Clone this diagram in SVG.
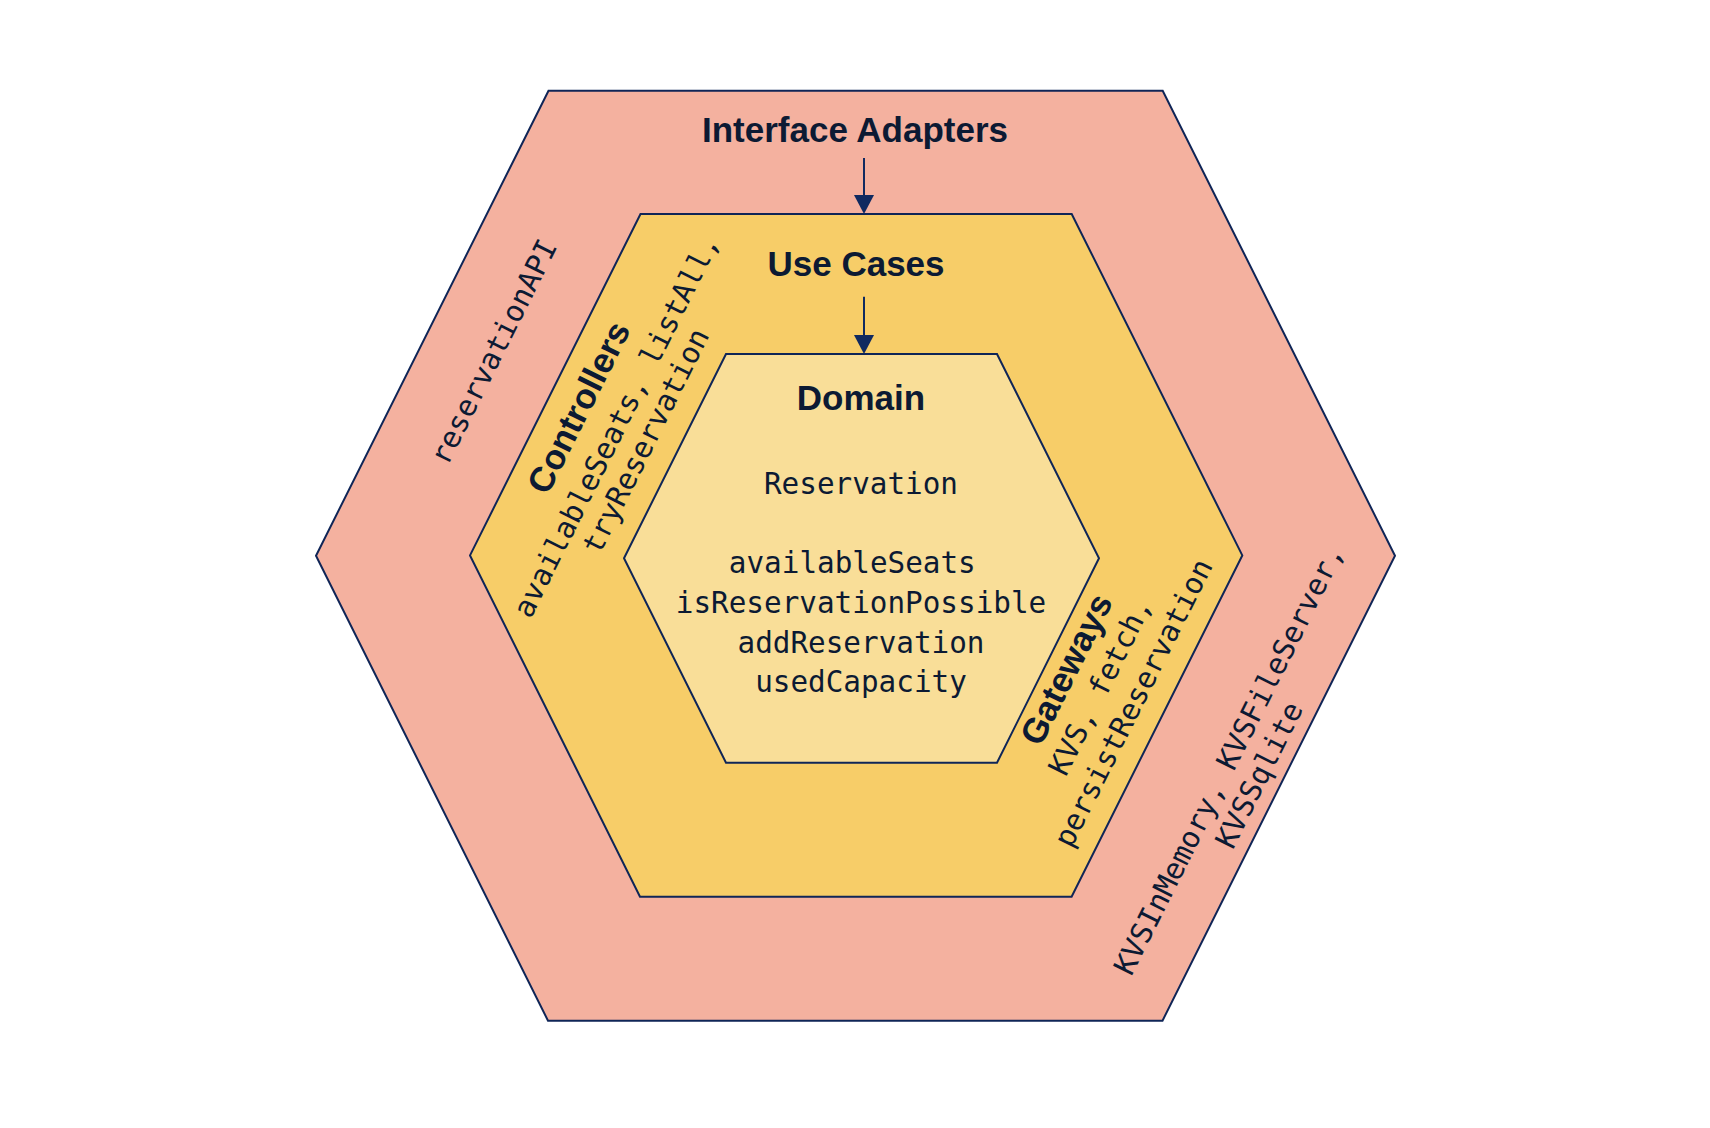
<svg xmlns="http://www.w3.org/2000/svg" width="1710" height="1128" viewBox="0 0 1710 1128">
<style>
.hex{stroke:#0f2557;stroke-width:2;stroke-linejoin:miter}
.t{font-family:"Liberation Sans",Arial,sans-serif;font-weight:bold;font-size:35px;fill:#0c1a33;text-anchor:middle}
.m{font-family:"DejaVu Sans Mono",monospace;font-size:29.3px;fill:#0c1a33;text-anchor:middle}
.c{stroke:#102a60;stroke-width:2;fill:none}
</style>
<defs>
<marker id="ah" markerUnits="userSpaceOnUse" markerWidth="19" markerHeight="20" viewBox="0 0 19 20" refX="0" refY="10" orient="auto"><path d="M0,0 L19,10 L0,20 Z" fill="#102a60"/></marker>
</defs>
<rect width="1710" height="1128" fill="#ffffff"/>
<g id="interface-adapters">
<polygon class="hex" fill="#f4b19f" points="548.5,90.7 1162.7,90.7 1395,555.7 1162.5,1020.7 548,1020.7 316,555.7"/>
<text class="t" x="855" y="141.7">Interface Adapters</text>
<text class="m" transform="translate(502.7,356.4) rotate(-63.4)" x="0" y="0">reservationAPI</text>
<g transform="translate(1237.8,764.2) rotate(-63.4)">
<text class="m" x="0" y="0">KVSInMemory, KVSFileServer,</text>
<text class="m" x="0" y="34">KVSSqlite</text>
</g>
</g>
<g id="use-cases">
<polygon class="hex" fill="#f7cd68" points="640.5,214 1071.7,214 1242.3,555.4 1071.6,896.7 640,896.7 470,555.4"/>
<text class="t" x="856" y="275.7">Use Cases</text>
<g id="controllers" transform="translate(589.4,412.7) rotate(-63.4)">
<text class="t" x="0" y="0">Controllers</text>
<text class="m" x="0" y="40">availableSeats, listAll,</text>
<text class="m" x="0" y="73">tryReservation</text>
</g>
<g id="gateways" transform="translate(1077,674.7) rotate(-63.4)">
<text class="t" x="0" y="0">Gateways</text>
<text class="m" x="0" y="36">KVS, fetch,</text>
<text class="m" x="0" y="73">persistReservation</text>
</g>
</g>
<g id="domain">
<polygon class="hex" fill="#f9de98" points="726,354 997,354 1099,558.3 997,762.7 726,762.7 624,558.3"/>
<text class="t" x="861" y="410">Domain</text>
<text class="m" x="861" y="494">Reservation</text>
<text class="m" x="852.3" y="573">availableSeats</text>
<text class="m" x="861" y="613">isReservationPossible</text>
<text class="m" x="861" y="652.5">addReservation</text>
<text class="m" x="861" y="692">usedCapacity</text>
</g>
<g id="connectors">
<line class="c" x1="864" y1="158" x2="864" y2="195" marker-end="url(#ah)"/>
<line class="c" x1="864" y1="296.7" x2="864" y2="335" marker-end="url(#ah)"/>
</g>
</svg>
